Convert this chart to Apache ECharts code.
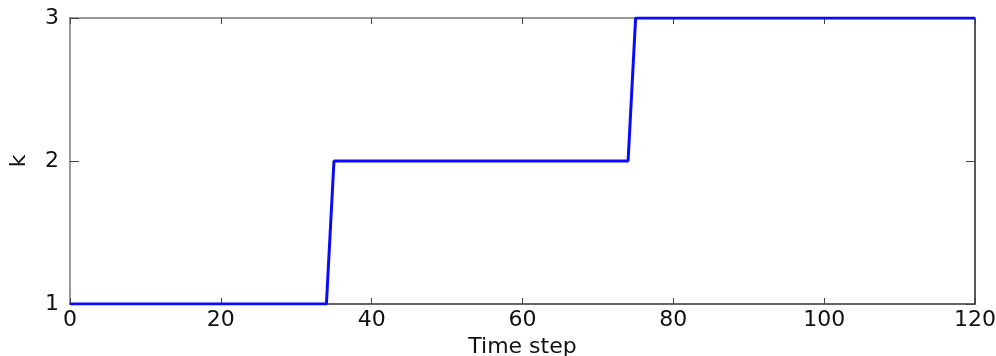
<!DOCTYPE html>
<html>
<head>
<meta charset="utf-8">
<script src="https://cdn.jsdelivr.net/npm/echarts@6/dist/echarts.min.js"></script>
<style>html,body{margin:0;padding:0;background:#fff}#c{width:996px;height:356px}</style>
</head>
<body>
<div id="c"></div>
<script>
var timeSteps = [0, 34, 35, 74, 75, 120];
var kValues = [1, 1, 2, 2, 3, 3];
var xTicks = [0, 20, 40, 60, 80, 100, 120];
var yTicks = [1, 2, 3];

var chart = echarts.init(document.getElementById('c'), null, {renderer: 'canvas'});
var font = 'DejaVu Sans';
var labelStyle = {fontFamily: font, fontSize: 22, color: '#111'};
var pts = timeSteps.map(function (t, i) { return [t, kValues[i]]; });
chart.setOption({
  animation: false,
  backgroundColor: '#fff',
  grid: {left: 70, right: 21, top: 18, bottom: 52, containLabel: false, outerBoundsMode: 'none'},
  xAxis: [{
    type: 'value', min: xTicks[0], max: xTicks[xTicks.length - 1], interval: 20,
    position: 'bottom',
    name: 'Time step', nameLocation: 'middle', nameGap: 25,
    nameTextStyle: {fontFamily: font, fontSize: 22, color: '#111'},
    axisLine: {show: true, onZero: false, lineStyle: {color: '#333', width: 1.5}},
    axisTick: {show: true, inside: true, length: 6, lineStyle: {color: '#444'}},
    axisLabel: Object.assign({margin: 5}, labelStyle),
    splitLine: {show: false}
  }, {
    type: 'value', min: xTicks[0], max: xTicks[xTicks.length - 1], interval: 20,
    position: 'top',
    axisLine: {show: true, onZero: false, lineStyle: {color: '#777', width: 1.5}},
    axisTick: {show: true, inside: true, length: 6, lineStyle: {color: '#444'}},
    axisLabel: {show: false},
    splitLine: {show: false}
  }],
  yAxis: [{
    type: 'value', min: yTicks[0], max: yTicks[yTicks.length - 1], interval: 1,
    position: 'left',
    name: 'k', nameLocation: 'middle', nameGap: 40, nameRotate: 90,
    nameTextStyle: {fontFamily: font, fontSize: 22, color: '#111'},
    axisLine: {show: true, onZero: false, lineStyle: {color: '#777', width: 1.5}},
    axisTick: {show: true, inside: true, length: 9, lineStyle: {color: '#444'}},
    axisLabel: Object.assign({margin: 11}, labelStyle),
    splitLine: {show: false}
  }, {
    type: 'value', min: yTicks[0], max: yTicks[yTicks.length - 1], interval: 1,
    position: 'right',
    axisLine: {show: true, onZero: false, lineStyle: {color: '#222', width: 1.5}},
    axisTick: {show: true, inside: true, length: 9, lineStyle: {color: '#444'}},
    axisLabel: {show: false},
    splitLine: {show: false}
  }],
  series: [{
    type: 'line',
    data: pts,
    showSymbol: false,
    symbol: 'none',
    lineStyle: {color: '#0a0aff', width: 3},
    z: 5
  }]
});
</script>
</body>
</html>
